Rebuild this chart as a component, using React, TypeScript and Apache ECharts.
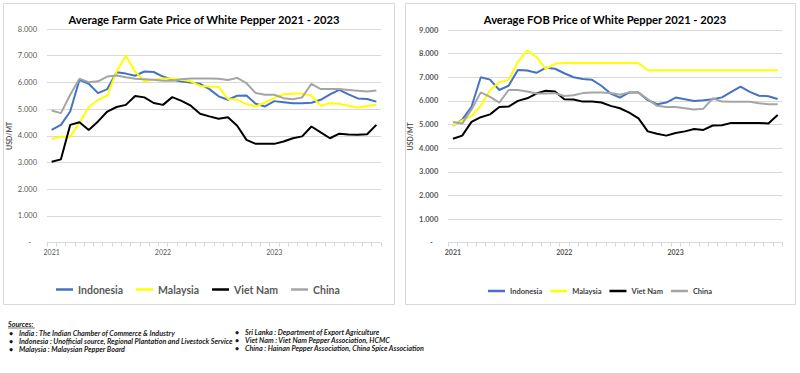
import React, { useEffect, useRef } from 'react';
import * as echarts from 'echarts';

const months = [
  '2021-01','2021-02','2021-03','2021-04','2021-05','2021-06','2021-07','2021-08','2021-09','2021-10','2021-11','2021-12',
  '2022-01','2022-02','2022-03','2022-04','2022-05','2022-06','2022-07','2022-08','2022-09','2022-10','2022-11','2022-12',
  '2023-01','2023-02','2023-03','2023-04','2023-05','2023-06','2023-07','2023-08','2023-09','2023-10','2023-11','2023-12',
];
const yearLabels = ['2021', '2022', '2023'];
const seriesNames = ['Indonesia', 'Malaysia', 'Viet Nam', 'China'];

const farmIndonesia = [4220,4410,4910,6100,5950,5600,5750,6380,6330,6250,6410,6390,6220,6100,6030,6000,5950,5750,5480,5350,5500,5510,5200,5100,5300,5260,5220,5220,5240,5350,5550,5720,5550,5400,5380,5280];
const farmMalaysia = [3880,3970,3970,4500,5080,5350,5510,6410,7000,6410,6040,6100,6150,6150,6100,6040,5870,5850,5830,5380,5350,5190,5100,5250,5410,5560,5580,5590,5500,5130,5220,5200,5130,5060,5120,5160];
const farmVietNam = [3030,3120,4410,4510,4220,4540,4910,5080,5160,5490,5440,5230,5160,5450,5310,5130,4830,4730,4640,4700,4380,3850,3700,3700,3700,3790,3910,3980,4350,4130,3910,4080,4050,4040,4060,4410];
const farmChina = [4950,4850,5540,6140,6010,6040,6220,6260,6190,6140,6120,6100,6060,6060,6120,6150,6150,6150,6140,6090,6170,5970,5600,5540,5540,5410,5370,5440,5950,5750,5750,5750,5720,5690,5660,5700];

const fobIndonesia = [4950,5210,5750,7000,6900,6460,6640,7310,7290,7190,7400,7360,7170,7000,6930,6890,6640,6310,6140,6360,6360,6030,5860,5930,6140,6070,6000,6030,6070,6150,6380,6600,6380,6220,6200,6080];
const fobMalaysia = [4970,5170,5360,5790,6460,6790,6890,7640,8140,7860,7360,7570,7600,7600,7600,7600,7600,7600,7600,7600,7600,7300,7300,7300,7300,7300,7300,7300,7300,7300,7300,7300,7300,7300,7300,7300];
const fobVietNam = [4400,4530,5110,5310,5430,5740,5760,6000,6110,6310,6430,6400,6070,6060,5970,5970,5930,5790,5690,5500,5260,4710,4610,4530,4640,4710,4810,4770,4960,4970,5070,5070,5070,5070,5040,5400];
const fobChina = [5110,5040,5640,6360,6170,5930,6460,6460,6400,6310,6310,6330,6210,6240,6330,6360,6360,6330,6260,6360,6360,6070,5790,5740,5740,5690,5640,5670,6110,5970,5960,5960,5960,5900,5860,5860];

const titles = ['Average Farm Gate Price of White Pepper 2021 - 2023', 'Average FOB Price of White Pepper 2021 - 2023'];
const sourcesLeft = [
  'India : The Indian Chamber of Commerce & Industry',
  'Indonesia : Unofficial source, Regional Plantation and Livestock Service',
  'Malaysia : Malaysian Pepper Board',
];
const sourcesRight = [
  'Sri Lanka : Department of Export Agriculture',
  'Viet Nam : Viet Nam Pepper Association, HCMC',
  'China : Hainan Pepper Association, China Spice Association',
];

const colors = ['#4472C4', '#FFFF00', '#000000', '#A5A5A5'];
const FONT = 'Lato';
const GRID = '#D9D9D9';
const LABEL = '#595959';

export default function App() {
  const ref = useRef<HTMLDivElement>(null);
  useEffect(() => {
    if (!ref.current) return;
    const chart = echarts.init(ref.current, undefined, { renderer: 'svg' });
    const farm = [farmIndonesia, farmMalaysia, farmVietNam, farmChina];
    const fob = [fobIndonesia, fobMalaysia, fobVietNam, fobChina];

    const xAxis = (gi: number, bold: boolean) => ({
      type: 'category',
      gridIndex: gi,
      data: months,
      boundaryGap: true,
      axisLine: { lineStyle: { color: GRID, width: 1 } },
      axisTick: { show: true, interval: 0, length: 4, lineStyle: { color: GRID } },
      axisLabel: {
        interval: (i: number) => i % 12 === 0,
        formatter: (_v: string, i: number) => yearLabels[Math.floor(i / 12)],
        color: LABEL,
        fontFamily: FONT,
        fontSize: 7,
        fontWeight: bold ? 'bold' : 'normal',
        margin: 6,
      },
    });
    const yAxis = (gi: number, max: number, bold: boolean) => ({
      type: 'value',
      gridIndex: gi,
      min: 0,
      max,
      interval: 1000,
      name: 'USD/MT',
      nameLocation: 'middle',
      nameGap: 35,
      nameTextStyle: { color: LABEL, fontFamily: FONT, fontSize: 7, fontWeight: 'bold' },
      axisLine: { show: false },
      axisTick: { show: false },
      splitLine: { lineStyle: { color: GRID, width: 1 } },
      axisLabel: {
        formatter: (v: number) => (v === 0 ? '-   ' : (v / 1000).toFixed(3)),
        color: LABEL,
        fontFamily: FONT,
        fontSize: 7.5,
        fontWeight: bold ? 'bold' : 'normal',
        margin: 10,
      },
    });

    const series: any[] = [];
    farm.forEach((d, k) => series.push({
      name: seriesNames[k], type: 'line', xAxisIndex: 0, yAxisIndex: 0, data: d,
      symbol: 'none', lineStyle: { color: colors[k], width: 2 }, itemStyle: { color: colors[k] },
    }));
    fob.forEach((d, k) => series.push({
      name: seriesNames[k], type: 'line', xAxisIndex: 1, yAxisIndex: 1, data: d,
      symbol: 'none', lineStyle: { color: colors[k], width: 2 }, itemStyle: { color: colors[k] },
    }));

    const srcText = (txt: string, x: number, y: number) => ({
      type: 'text', x, y,
      style: { text: txt, fill: '#1a1a1a', font: `italic bold 7.2px ${FONT}`, textVerticalAlign: 'middle' },
    });
    const graphics: any[] = [
      { type: 'rect', shape: { x: 3.5, y: 3.5, width: 391, height: 301 }, style: { fill: 'none', stroke: GRID, lineWidth: 1 }, z: -1 },
      { type: 'rect', shape: { x: 405.5, y: 3.5, width: 390, height: 301 }, style: { fill: 'none', stroke: GRID, lineWidth: 1 }, z: -1 },
      srcText('Sources:', 8, 324),
      { type: 'line', shape: { x1: 8, y1: 328, x2: 35, y2: 328 }, style: { stroke: '#1a1a1a', lineWidth: 0.6 } },
    ];
    sourcesLeft.forEach((s, i) => {
      graphics.push(srcText('•', 9, 333 + i * 8));
      graphics.push(srcText(s, 19, 333 + i * 8));
    });
    sourcesRight.forEach((s, i) => {
      graphics.push(srcText('•', 235, 332 + i * 8));
      graphics.push(srcText(s, 245, 332 + i * 8));
    });

    chart.setOption({
      animation: false,
      backgroundColor: '#fff',
      title: [
        { text: titles[0], left: 199, top: 9, textAlign: 'center', textStyle: { fontFamily: FONT, fontSize: 11.2, fontWeight: 'bold', color: '#000' } },
        { text: titles[1], left: 600, top: 9, textAlign: 'center', textStyle: { fontFamily: FONT, fontSize: 11.2, fontWeight: 'bold', color: '#000' } },
      ],
      legend: [
        {
          data: seriesNames, left: 56, top: 284, padding: 0, icon: 'rect', itemWidth: 17, itemHeight: 2.5, itemGap: 13,
          textStyle: { fontFamily: FONT, fontSize: 10.5, fontWeight: 'bold', color: LABEL },
        },
        {
          data: seriesNames, left: 488, top: 287, padding: 0, icon: 'rect', itemWidth: 17, itemHeight: 2.5, itemGap: 8,
          textStyle: { fontFamily: FONT, fontSize: 7.5, fontWeight: 'bold', color: '#404040' },
        },
      ],
      grid: [
        { left: 47, right: 419, top: 29, bottom: 130.3 },
        { left: 448.3, right: 17.7, top: 30, bottom: 130.3 },
      ],
      xAxis: [xAxis(0, false), xAxis(1, true)],
      yAxis: [yAxis(0, 8000, false), yAxis(1, 9000, true)],
      series,
      graphic: graphics,
    });
    return () => chart.dispose();
  }, []);
  return <div ref={ref} style={{ position: 'absolute', left: 0, top: 0, width: 800, height: 373 }} />;
}
